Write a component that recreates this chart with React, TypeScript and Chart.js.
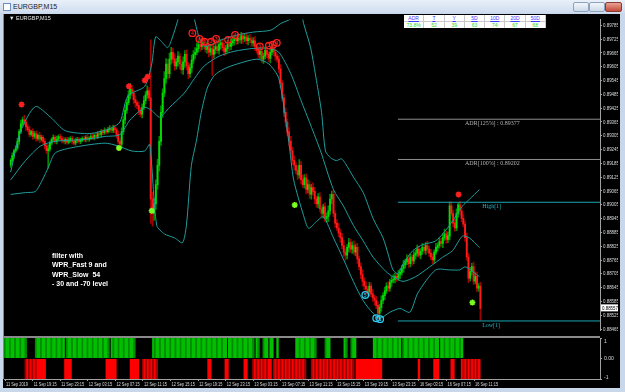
import React, { useEffect, useRef } from 'react';
import { Chart, registerables } from 'chart.js';
Chart.register(...registerables);

// ---------- DATA ----------
const PRICE_TICKS = [0.89785,0.89725,0.89665,0.89605,0.89545,0.89485,0.89425,0.89365,0.89305,0.89245,0.89185,0.89125,0.89065,0.89005,0.88945,0.88885,0.88825,0.88765,0.88705,0.88645,0.88585,0.88525,0.88465];
const TIME_TICK_BARS = [0,16,32,48,64,80,96,112,128,144,160,176,192,208,224,240,256,272];
const TIME_TICK_LABELS = ['11 Sep 2019','11 Sep 19:15','11 Sep 23:15','12 Sep 03:15','12 Sep 07:15','12 Sep 11:15','12 Sep 15:15','12 Sep 19:15','12 Sep 23:15','13 Sep 03:15','13 Sep 07:15','13 Sep 11:15','13 Sep 15:15','13 Sep 19:15','13 Sep 23:15','16 Sep 03:15','16 Sep 07:15','16 Sep 11:15'];

// prices in points (1e-5)
const FIRST_OPEN = 89177;
const closes = [
89198,89219,89240,89252,89281,89323,89357,89374,89365,89344,
89332,89311,89323,89302,89315,89294,89307,89290,89298,89281,
89261,89240,89248,89273,89290,89298,89281,89290,89302,89294,
89286,89281,89290,89277,89286,89294,89281,89273,89286,89290,
89281,89286,89294,89290,89298,89290,89294,89302,89298,89307,
89302,89315,89311,89323,89319,89328,89323,89332,89336,89328,
89340,89332,89311,89281,89269,89323,89374,89416,89449,89483,
89508,89491,89462,89449,89437,89416,89399,89428,89458,89483,
89500,89470,89030,88967,89009,89093,89177,89281,89407,89491,
89554,89617,89575,89638,89668,89638,89609,89626,89651,89617,
89592,89626,89659,89609,89575,89600,89634,89659,89668,89684,
89701,89693,89709,89701,89680,89693,89668,89684,89659,89680,
89693,89676,89701,89709,89688,89672,89684,89701,89693,89709,
89718,89726,89718,89730,89722,89739,89726,89735,89718,89730,
89722,89709,89718,89693,89676,89659,89672,89638,89651,89676,
89659,89642,89668,89684,89668,89651,89638,89596,89533,89470,
89407,89365,89323,89281,89240,89198,89177,89156,89135,89177,
89114,89093,89122,89072,89093,89051,89080,89063,89030,89009,
89038,88988,88967,88996,88946,88954,88979,89030,89051,88967,
88925,88904,88883,88862,88828,88799,88786,88820,88841,88812,
88828,88799,88820,88770,88736,88702,88673,88652,88639,88627,
88652,88618,88601,88589,88568,88534,88559,88589,88610,88631,
88652,88643,88669,88677,88681,88694,88686,88702,88711,88728,
88744,88757,88770,88749,88778,88761,88786,88795,88812,88786,
88803,88820,88807,88828,88812,88795,88778,88765,88799,88820,
88828,88845,88837,88862,88879,88854,88870,89000,88967,88925,
88904,88967,89005,88979,88946,88921,88862,88778,88686,88715,
88736,88673,88694,88643,88652,88555];
const upWick = [
8,12,6,10,14,9,16,12,20,8,10,14,6,12,9,11,7,13,10,8,
12,10,18,9,6,11,8,14,7,10,9,12,6,8,11,7,10,6,9,8,
7,9,6,10,8,12,7,9,11,8,10,7,12,9,8,11,6,10,13,9,
12,10,8,14,12,16,14,20,12,18,24,16,12,18,10,14,12,16,20,14,
22,15,252,30,24,20,26,22,28,18,30,24,20,26,22,18,24,16,20,14,
18,22,16,20,14,18,22,16,20,24,18,14,20,16,22,18,14,20,12,16,
14,18,22,12,16,20,14,18,12,16,20,14,12,18,10,16,12,14,18,12,
16,12,14,18,12,16,14,20,12,16,18,12,14,20,16,12,10,14,18,12,
16,20,14,18,22,16,20,12,18,24,16,20,14,18,22,16,14,20,18,12,
16,20,14,12,18,16,22,20,14,18,12,16,20,14,18,22,16,12,18,14,
16,20,14,18,12,16,20,14,18,12,16,14,20,12,18,16,14,20,12,16,
14,18,12,16,20,14,12,18,16,14,20,12,18,16,14,10,16,12,18,14,
12,16,10,14,18,12,16,14,10,18,12,16,14,18,20,12,16,17,18,14,
16,20,7,14,12,18,14,20,16,18,14,20,16,18,12,16];
const downWick = [
10,8,12,6,9,14,8,10,12,16,9,11,8,13,10,12,9,14,8,11,
14,12,76,10,8,12,9,11,7,10,12,8,11,9,7,10,12,8,9,11,
8,10,7,9,12,8,10,6,9,11,8,10,7,12,9,8,10,7,11,9,
10,14,16,12,29,18,12,16,14,10,18,12,16,20,14,18,12,16,10,14,
16,12,105,55,30,24,20,26,18,22,16,20,24,18,22,16,20,14,18,22,
16,20,24,18,22,16,20,14,18,12,16,20,14,18,12,16,20,14,92,16,
18,12,16,20,14,18,12,16,20,14,12,18,16,14,12,16,20,12,14,18,
12,16,14,18,12,16,20,14,18,12,16,14,20,12,16,18,12,16,20,14,
18,22,16,20,14,18,22,16,20,14,18,12,16,20,14,18,22,16,20,14,
18,12,16,20,14,18,22,16,20,14,18,12,16,20,14,18,22,16,20,14,
18,12,16,20,14,18,22,16,20,14,18,12,16,20,14,24,20,16,14,18,
12,16,14,18,12,16,14,10,18,12,16,14,12,16,14,18,12,16,14,10,
16,14,12,18,16,14,12,16,14,10,16,12,14,18,12,16,14,18,12,16,
14,12,16,18,14,12,16,14,18,12,16,14,12,16,14,52];

// Bollinger band traces: [bar, price]
const upperBand: [number, number][] = [[0,0.89147],[5.8,0.89323],[14.5,0.89432],[23.3,0.89386],[32,0.89327],[46.5,0.89315],[58,0.89336],[64,0.89365],[68.6,0.89478],[78.5,0.8952],[82.6,0.89617],[84.9,0.89735],[88.4,0.89714],[91.9,0.89688],[94.2,0.89722],[99.4,0.89848],[101.2,0.89932],[102.9,0.89911],[106.4,0.89848],[109.9,0.89743],[113.4,0.89693],[123.3,0.89722],[132.6,0.89743],[142.4,0.89756],[152.3,0.89764],[158.1,0.89793],[164,0.89814],[166.9,0.89861],[169.8,0.89848],[171.5,0.89793],[175.6,0.89688],[179,0.89546],[182,0.89407],[184.3,0.89239],[187.2,0.8921],[190.7,0.89197],[193.6,0.89205],[196,0.89184],[200.6,0.89126],[206.4,0.89058],[212.2,0.88945],[218,0.88861],[221,0.8879],[223.8,0.88722],[226.7,0.88706],[229.7,0.88748],[235.5,0.88806],[241.3,0.88832],[248.8,0.88848],[257,0.88916],[264.5,0.89],[268.6,0.89029],[274.4,0.89071]];
const middleBand: [number, number][] = [[0,0.89113],[8.7,0.89197],[17.4,0.8926],[26.2,0.89281],[43.6,0.89289],[55.2,0.89302],[64,0.8931],[69.8,0.89373],[78.5,0.89428],[82.6,0.89415],[87.2,0.89386],[93,0.89428],[101.7,0.89491],[107.6,0.89554],[113.4,0.89609],[122.1,0.89651],[130.8,0.89672],[142.4,0.89685],[151.2,0.89685],[157,0.89668],[164,0.89575],[169.8,0.89462],[175.6,0.89352],[181.4,0.89239],[189,0.89071],[194.8,0.89],[200.6,0.88916],[206.4,0.88848],[212.2,0.88777],[219.8,0.88714],[223.8,0.88693],[229.7,0.88672],[237.2,0.88693],[245.3,0.88735],[252.9,0.88777],[258.7,0.88806],[264.5,0.88869],[268.6,0.88861],[274.4,0.88819]];
const lowerBand: [number, number][] = [[0,0.8905],[8.7,0.89058],[14.5,0.89063],[18.6,0.89113],[22.1,0.89168],[26.2,0.89231],[37.8,0.89256],[55.2,0.89273],[62.8,0.89261],[70.9,0.89239],[78.5,0.89239],[81.4,0.89268],[85.5,0.88916],[90.1,0.88878],[96,0.88861],[100.6,0.8884],[102.9,0.88916],[105.8,0.89176],[108.7,0.89281],[111.6,0.89407],[115.1,0.89512],[119.2,0.89567],[125,0.89596],[132.6,0.89617],[144.2,0.89638],[151.2,0.89617],[157,0.89554],[162.8,0.89281],[165.7,0.89113],[171.5,0.88958],[174.4,0.88903],[179,0.88932],[183.1,0.88953],[189,0.88861],[194.8,0.88769],[200.6,0.88672],[206.4,0.88588],[212.2,0.88533],[216.3,0.88512],[222,0.88538],[227.9,0.88554],[233.7,0.88538],[238.4,0.88622],[248.8,0.88722],[257,0.88722],[262.8,0.88722],[266.3,0.88735],[274.4,0.88693]];

const redStars: [number, number][] = [[6.4,0.89441],[69.2,0.8952],[78.5,0.89546],[80.2,0.89562],[262.2,0.8905]];
const greenStars: [number, number][] = [[63.4,0.89252],[82.6,0.88979],[166.3,0.89004],[270.3,0.8858]];
const redCircles: [number, number][] = [[106.4,0.89751],[110.5,0.89726],[113.4,0.89714],[117.4,0.89714],[120.3,0.89726],[127.3,0.89722],[131.4,0.89743],[145.9,0.89693],[151.2,0.89697],[153.5,0.89701],[155.8,0.89709]];
const redCircleDigits = ['4','4','3','3','3','4','4','3','3','3','4'];
const cyanCircles: [number, number][] = [[207.6,0.88613],[214,0.88512],[216.3,0.88508]];
const cyanCircleDigits = ['5','6','1'];

const LEVEL_START_BAR = 226.7;
const levelNames = ['ADR[125%] : 0.89377','ADR[100%] : 0.89202','High[1]','Low[1]'];
const levelPrices = [0.89377, 0.89202, 0.89016, 0.885];
const CURRENT_PRICE = 0.88557;

// indicator runs [firstBar, lastBar(, mixed-dark)]
const greenRuns: [number, number][] = [[0,12],[18,34],[36,60],[62,75],[86,128],[130,144],[146,147],[150,152],[154,155],[158,158],[169,180],[186,188],[197,198],[201,203],[214,229],[231,251],[253,265]];
const redRuns: [number, number, number][] = [[12,19,1],[20,23,0],[35,36,0],[37,38,0],[59,64,0],[73,77,0],[80,88,1],[118,119,0],[128,129,0],[139,140,0],[144,152,1],[153,154,0],[156,174,1],[178,187,1],[188,202,1],[204,218,0],[240,240,0],[249,251,0],[259,260,0],[265,275,1]];
const indicatorAxisLabels = ['1', '0.00', '-1'];

const tableHeaders = ['ADR','T','Y','5D','10D','20D','50D'];
const tableValues = ['73.8%','52','39','63','74','67','68'];

// ---------- STYLE ----------
const UI_FONT = '"Liberation Sans", Arial, sans-serif';
const X_MIN = -0.6, X_MAX = 345;
const Y_MIN = 0.88459, Y_MAX = 0.8981;
const BAND = '#1f9c9c';
const AXIS = '#a0a0a0';
const LABEL = '#dcdcdc';

const opens = closes.map((c, i) => (i === 0 ? FIRST_OPEN : closes[i - 1]));
const isUp = closes.map((c, i) => c >= opens[i]);

function squeezedText(ctx: CanvasRenderingContext2D, text: string, x: number, y: number, sx: number) {
  ctx.save();
  ctx.translate(x, y);
  ctx.scale(sx, 1);
  ctx.fillText(text, 0, 0);
  ctx.restore();
}

const mainPlugin = {
  id: 'mainAnnot',
  afterDatasetsDraw(chart: any) {
    const { ctx, scales: { x, y } } = chart;
    ctx.save();
    levelNames.forEach((t, k) => {
      const py = y.getPixelForValue(levelPrices[k]);
      ctx.textBaseline = 'top';
      ctx.font = '6px "Liberation Serif", serif';
      if (k < 2) {
        ctx.fillStyle = '#b4b4b4';
        ctx.textAlign = 'center';
        ctx.fillText(t, x.getPixelForValue(282), py + 1);
      } else {
        ctx.fillStyle = '#22b4c0';
        ctx.textAlign = 'left';
        ctx.fillText(t, x.getPixelForValue(276), py + 1);
      }
    });
    ctx.font = 'bold 4.5px ' + UI_FONT;
    ctx.textAlign = 'center';
    ctx.textBaseline = 'middle';
    redCircles.forEach((p, k) => {
      ctx.fillStyle = '#ff2020';
      ctx.fillText(redCircleDigits[k], x.getPixelForValue(p[0]), y.getPixelForValue(p[1]) + 0.5);
    });
    cyanCircles.forEach((p, k) => {
      ctx.fillStyle = '#30ccf0';
      ctx.fillText(cyanCircleDigits[k], x.getPixelForValue(p[0]), y.getPixelForValue(p[1]) + 0.5);
    });
    ctx.restore();
  },
  afterDraw(chart: any) {
    const { ctx, scales: { y }, chartArea } = chart;
    ctx.save();
    ctx.font = '6px ' + UI_FONT;
    ctx.textBaseline = 'middle';
    ctx.textAlign = 'left';
    ctx.fillStyle = LABEL;
    const sx = 16 / ctx.measureText('0.89785').width;
    PRICE_TICKS.forEach((v) => squeezedText(ctx, v.toFixed(5), chartArea.right + 3, y.getPixelForValue(v), sx));
    const py = y.getPixelForValue(CURRENT_PRICE);
    ctx.fillStyle = '#ffffff';
    ctx.fillRect(chartArea.right + 1, py - 3.5, 18, 7);
    ctx.fillStyle = '#000';
    squeezedText(ctx, CURRENT_PRICE.toFixed(5), chartArea.right + 2, py, sx);
    ctx.restore();
  },
};

const indPlugin = {
  id: 'indAnnot',
  afterDraw(chart: any) {
    const { ctx, chartArea, scales: { x } } = chart;
    ctx.save();
    ctx.fillStyle = LABEL;
    ctx.font = '6px ' + UI_FONT;
    ctx.textAlign = 'left';
    ctx.textBaseline = 'middle';
    const ys = [chartArea.top + 3, (chartArea.top + chartArea.bottom) / 2, chartArea.bottom - 2];
    const sy = 0.85;
    indicatorAxisLabels.forEach((t, k) => squeezedText(ctx, t, chartArea.right + 4, ys[k], sy));
    const sx = 23 / ctx.measureText('11 Sep 19:15').width;
    TIME_TICK_BARS.forEach((b, k) => squeezedText(ctx, TIME_TICK_LABELS[k], x.getPixelForValue(b) + 1, chartArea.bottom + 5, sx));
    ctx.restore();
  },
};

export default function App() {
  const mainRef = useRef<HTMLCanvasElement>(null);
  const indRef = useRef<HTMLCanvasElement>(null);

  useEffect(() => {
    document.body.style.margin = '0';
    const toPts = (arr: [number, number][]) => arr.map((p) => ({ x: p[0], y: p[1] }));
    const wickData = closes.map((c, i) => ({ x: i, y: [(Math.min(opens[i], c) - downWick[i]) / 1e5, (Math.max(opens[i], c) + upWick[i]) / 1e5] }));
    const bodyData = closes.map((c, i) => ({ x: i, y: [opens[i] / 1e5, c / 1e5] }));
    const levelDs = levelPrices.map((p, k) => ({
      type: 'line' as const,
      data: [{ x: LEVEL_START_BAR, y: p }, { x: X_MAX, y: p }],
      borderColor: k < 2 ? '#8e8e8e' : '#1aa6b2',
      borderWidth: 1,
      pointRadius: 0,
      order: 2,
    }));
    const bandDs = [upperBand, middleBand, lowerBand].map((b) => ({
      type: 'line' as const,
      data: toPts(b),
      borderColor: BAND,
      borderWidth: 1,
      pointRadius: 0,
      tension: 0.25,
      order: 1,
    }));

    const main = new Chart(mainRef.current!, {
      type: 'bar',
      data: {
        datasets: [
          { type: 'scatter', data: toPts(redStars), pointStyle: 'star', radius: 3, borderColor: '#ff2020', borderWidth: 1.6, order: 0 } as any,
          { type: 'scatter', data: toPts(greenStars), pointStyle: 'star', radius: 3, borderColor: '#7cff20', borderWidth: 1.6, order: 0 } as any,
          { type: 'scatter', data: toPts(redCircles), pointStyle: 'circle', radius: 3.3, borderColor: '#ff2020', backgroundColor: 'rgba(0,0,0,0)', borderWidth: 1.3, order: 0 } as any,
          { type: 'scatter', data: toPts(cyanCircles), pointStyle: 'circle', radius: 3.3, borderColor: '#30ccf0', backgroundColor: 'rgba(0,0,0,0)', borderWidth: 1.3, order: 0 } as any,
          ...bandDs,
          ...levelDs,
          { type: 'bar', data: bodyData, barThickness: 1.2, grouped: false, backgroundColor: isUp.map((u) => (u ? '#00e000' : '#ff1a1a')), order: 3 } as any,
          { type: 'bar', data: wickData, barThickness: 1, grouped: false, backgroundColor: isUp.map((u) => (u ? '#008c00' : '#a00000')), order: 4 } as any,
        ],
      },
      options: {
        responsive: false,
        animation: false,
        devicePixelRatio: 1,
        layout: { padding: 0 },
        plugins: { legend: { display: false }, tooltip: { enabled: false } },
        scales: {
          x: { type: 'linear', min: X_MIN, max: X_MAX, display: false, offset: false, grid: { offset: false } },
          y: {
            type: 'linear', position: 'right', min: Y_MIN, max: Y_MAX,
            afterBuildTicks: (s: any) => { s.ticks = PRICE_TICKS.map((v) => ({ value: v })); },
            afterFit: (s: any) => { s.width = 18; s.paddingTop = 0; s.paddingBottom = 0; },
            ticks: { display: false },
            grid: { drawOnChartArea: false, tickLength: 2, color: AXIS },
            border: { color: AXIS },
          },
        },
      } as any,
      plugins: [mainPlugin],
    });

    const greenData: any[] = [];
    greenRuns.forEach(([a, b]) => { for (let i = a; i <= b; i++) greenData.push({ x: i, y: [0.04, 1] }); });
    const redData: any[] = [];
    const redMix: number[] = [];
    redRuns.forEach(([a, b, m]) => { for (let i = a; i <= b; i++) { redData.push({ x: i, y: [-1, -0.04] }); redMix.push(m); } });

    const ind = new Chart(indRef.current!, {
      type: 'bar',
      data: {
        datasets: [
          { data: greenData, grouped: false, barThickness: 1.75, backgroundColor: greenData.map((d) => (d.x % 3 === 0 ? '#008a00' : '#00c000')) } as any,
          { data: redData, grouped: false, barThickness: 1.75, backgroundColor: redData.map((d, k) => (redMix[k] && d.x % 2 === 0 ? '#9c0000' : '#ff0000')) } as any,
        ],
      },
      options: {
        responsive: false,
        animation: false,
        devicePixelRatio: 1,
        layout: { padding: 0 },
        plugins: { legend: { display: false }, tooltip: { enabled: false } },
        scales: {
          x: {
            type: 'linear', min: X_MIN, max: X_MAX, position: 'bottom', offset: false,
            afterBuildTicks: (s: any) => { s.ticks = TIME_TICK_BARS.map((v) => ({ value: v })); },
            afterFit: (s: any) => { s.height = 10; s.paddingLeft = 0; s.paddingRight = 0; },
            ticks: { display: false },
            grid: { drawOnChartArea: false, tickLength: 2, color: AXIS, offset: false },
            border: { color: AXIS },
          },
          y: {
            type: 'linear', position: 'right', min: -1, max: 1,
            afterBuildTicks: (s: any) => { s.ticks = [{ value: 1 }, { value: 0 }, { value: -1 }]; },
            afterFit: (s: any) => { s.width = 18; s.paddingTop = 0; s.paddingBottom = 0; },
            ticks: { display: false },
            grid: { drawOnChartArea: false, tickLength: 2, color: AXIS },
            border: { color: AXIS },
          },
        },
      } as any,
      plugins: [indPlugin],
    });

    return () => { main.destroy(); ind.destroy(); };
  }, []);

  const abs = (s: React.CSSProperties): React.CSSProperties => ({ position: 'absolute', ...s });

  return (
    <div style={{ position: 'relative', width: 625, height: 392, overflow: 'hidden', background: '#c8d7ea', fontFamily: UI_FONT }}>
      <div style={abs({ left: 0, top: 0, width: 625, height: 13, background: 'linear-gradient(#e9f0f9,#cfdcee)' })} />
      <div style={abs({ left: 3, top: 3, width: 6, height: 6, background: '#fff', border: '1px solid #6a8fc0' })} />
      <div style={abs({ left: 13, top: 2, fontSize: 7, color: '#1a1a1a', lineHeight: '9px' })}>EURGBP,M15</div>
      <div style={abs({ left: 573, top: 2, width: 14, height: 8, background: 'linear-gradient(#f2f6fb,#cdd9e8)', border: '1px solid #8da2bd', borderRadius: 2 })} />
      <div style={abs({ left: 589, top: 2, width: 14, height: 8, background: 'linear-gradient(#f2f6fb,#cdd9e8)', border: '1px solid #8da2bd', borderRadius: 2 })} />
      <div style={abs({ left: 605, top: 2, width: 15, height: 8, background: 'linear-gradient(#e8a494,#c44a3a)', border: '1px solid #8a3a30', borderRadius: 2 })} />
      <div style={abs({ left: 3, top: 14, width: 617, height: 374, background: '#000' })} />
      <div style={abs({ left: 3, top: 14, width: 1, height: 365, background: '#7c8a9a' })} />
      <canvas ref={mainRef} width={614} height={322} style={abs({ left: 4, top: 14 })} />
      <div style={abs({ left: 4, top: 336, width: 596, height: 2, background: '#8a8a8a' })} />
      <canvas ref={indRef} width={614} height={51} style={abs({ left: 4, top: 338 })} />
      <div style={abs({ left: 9, top: 15, fontSize: 5.5, color: '#e8e8e8', lineHeight: '7px' })}>▼ EURGBP,M15</div>
      <div style={abs({ left: 404, top: 15, width: 142, height: 13, background: '#fff', display: 'grid', gridTemplateColumns: 'repeat(7, 1fr)', gridTemplateRows: '6.5px 6.5px', fontSize: 5, lineHeight: '6.5px', textAlign: 'center' })}>
        {tableHeaders.map((h) => (<div key={'h' + h} style={{ color: '#3a3aff', borderRight: '1px solid #c8c8c8', borderBottom: '1px solid #c8c8c8', textDecoration: 'underline' }}>{h}</div>))}
        {tableValues.map((v, k) => (<div key={'v' + k} style={{ color: '#22dd22', borderRight: '1px solid #c8c8c8' }}>{v}</div>))}
      </div>
      <div style={abs({ left: 52, top: 251, fontSize: 7, fontWeight: 'bold', color: '#fff', lineHeight: '9.3px', whiteSpace: 'pre' })}>
        {'filter with\nWPR_Fast 9 and\nWPR_Slow  54\n- 30 and -70 level'}
      </div>
    </div>
  );
}
